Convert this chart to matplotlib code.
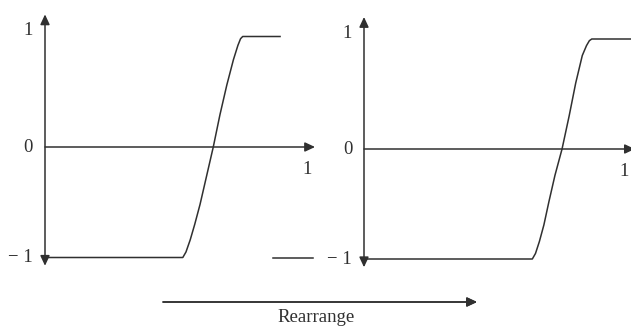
import numpy as np
import matplotlib.pyplot as plt

# signal levels before and after the rearrangement
left_x = [0.0, 0.52, 0.532, 0.548, 0.565, 0.585, 0.61, 0.635, 0.66, 0.686, 0.711, 0.728, 0.738, 0.746, 0.887]
left_y = [-1.0, -1.0, -0.95, -0.84, -0.7, -0.52, -0.26, 0.0, 0.29, 0.56, 0.79, 0.92, 0.98, 1.0, 1.0]
tail_x = [0.86, 1.011]
tail_y = [-1.0, -1.0]

right_x = [0.0, 0.64, 0.652, 0.667, 0.684, 0.703, 0.726, 0.753, 0.78, 0.805, 0.83, 0.846, 0.857, 0.866, 1.05]
right_y = [-1.0, -1.0, -0.95, -0.84, -0.69, -0.48, -0.24, 0.0, 0.3, 0.6, 0.85, 0.94, 0.985, 1.0, 1.0]

ytick_vals = [1, 0, -1]
ytick_text = ['1', '0', '\u2212 1']

ink = '#303030'
plt.rcParams['font.family'] = ['Liberation Serif', 'DejaVu Serif']

W, H = 631, 327
fig = plt.figure(figsize=(W / 100, H / 100), dpi=100)
head = '-|>,head_length=0.6,head_width=0.28'


def panel(x0, y_zero, xscale, yscale, right_px):
    # axes whose data units map onto the drawing in pixels
    top_px, bot_px = 10, 270
    ax = fig.add_axes([x0 / W, (H - bot_px) / H, (right_px - x0) / W, (bot_px - top_px) / H])
    ax.set_xlim(0, (right_px - x0) / xscale)
    ax.set_ylim((y_zero - bot_px) / yscale, (y_zero - top_px) / yscale)
    ax.axis('off')
    return ax


def draw_axes(ax, y_top, y_bot, x_end):
    arrow = dict(arrowstyle='<|-|>,head_length=0.6,head_width=0.28', color=ink,
                 lw=1.1, shrinkA=0, shrinkB=0, mutation_scale=10)
    ax.annotate('', xy=(0, y_top), xytext=(0, y_bot), arrowprops=arrow,
                annotation_clip=False)
    ax.annotate('', xy=(x_end, 0), xytext=(0, 0), arrowprops=dict(arrow, arrowstyle=head),
                annotation_clip=False)
    for v, t in zip(ytick_vals, ytick_text):
        yy = v + 0.05 if v == 1 else v
        ax.text(-0.045, yy, t, ha='right', va='center', fontsize=13.5, color=ink,
                clip_on=False)
    ax.text(0.99, -0.13, '1', ha='center', va='top', fontsize=13.5, color=ink,
            clip_on=False)


ax1 = panel(45, 147, 265, 110.5, 318)
draw_axes(ax1, 1.2, -1.075, 1.019)
ax1.plot(left_x, left_y, color=ink, lw=1.1)
ax1.plot(tail_x, tail_y, color=ink, lw=1.1)

ax2 = panel(364, 149, 263, 110, 631)
draw_axes(ax2, 1.2, -1.075, 1.03)
ax2.plot(right_x, right_y, color=ink, lw=1.1, clip_on=False)

# direction of the rearrangement
fig.add_artist(plt.annotate('', xy=(477 / W, 1 - 302 / H), xytext=(163 / W, 1 - 302 / H),
                            xycoords='figure fraction',
                            arrowprops=dict(arrowstyle=head, color=ink, lw=1.1,
                                            shrinkA=0, shrinkB=0, mutation_scale=10)))
fig.text(316 / W, 1 - 322 / H, 'Rearrange', ha='center', va='baseline', fontsize=13.5, color=ink)

fig.savefig('out.png', dpi=100)
